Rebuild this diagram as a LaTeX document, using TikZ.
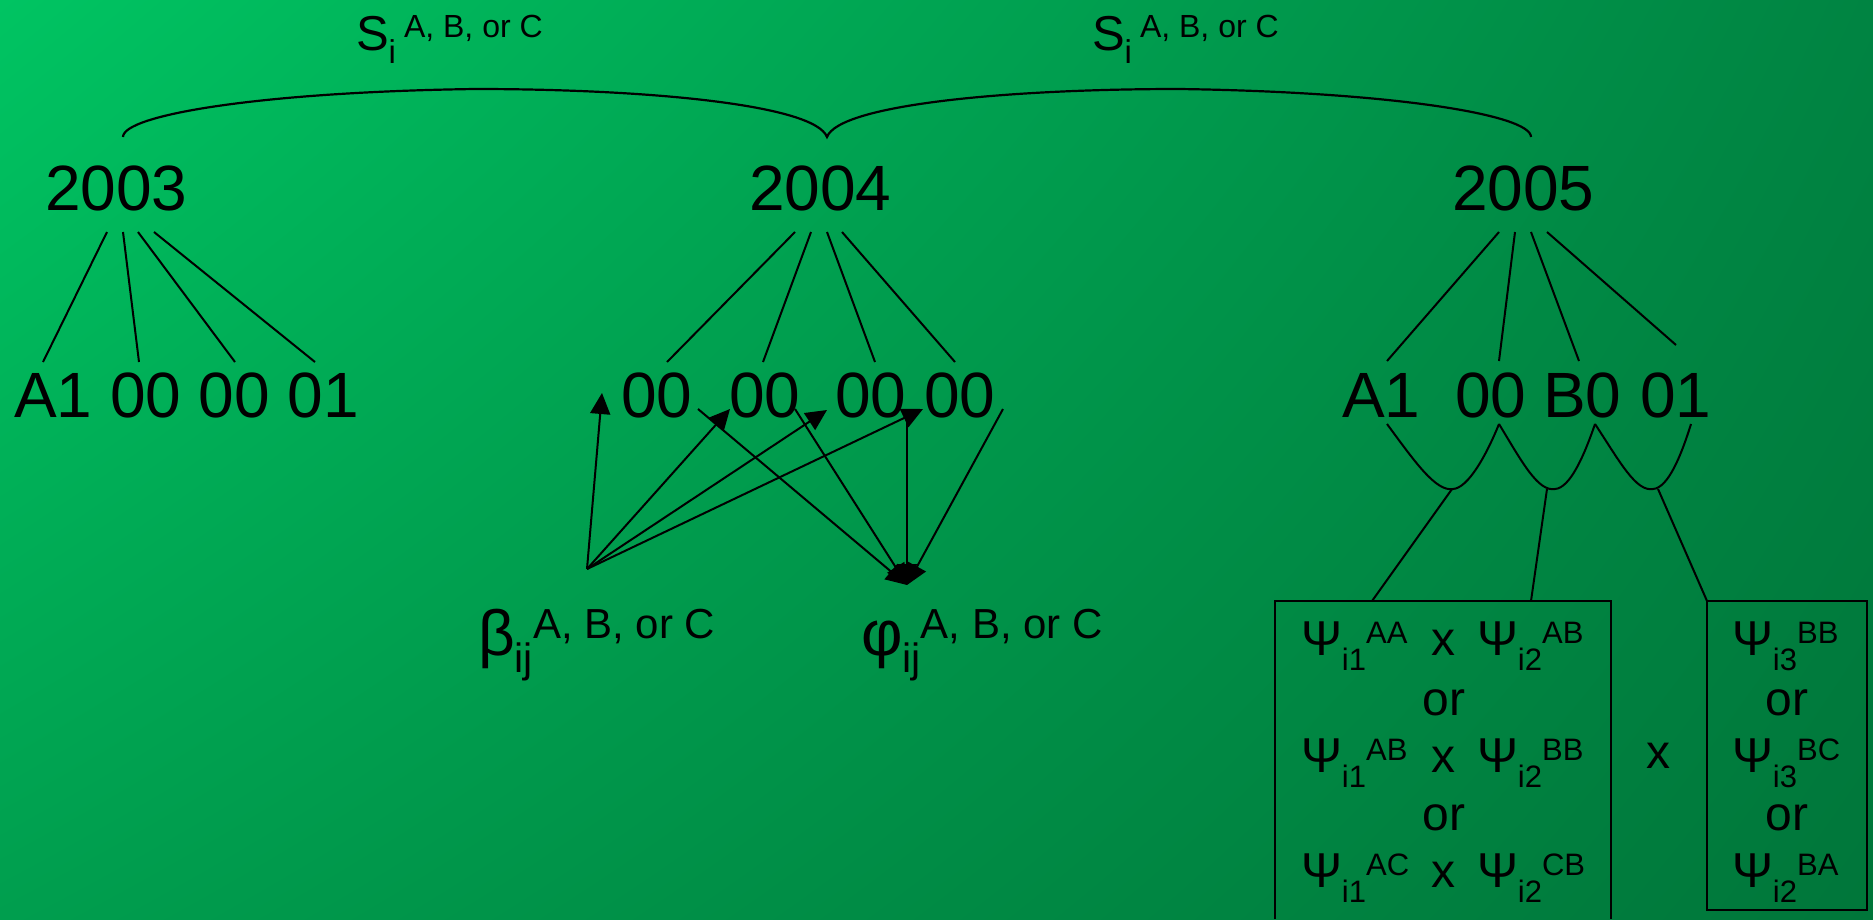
\documentclass[tikz,border=0pt]{standalone}
\usepackage{fontspec}
\setmainfont{Liberation Sans}
\usetikzlibrary{arrows.meta,shadings}
\definecolor{bgUL}{RGB}{0,196,98}
\definecolor{bgUR}{RGB}{0,132,66}
\definecolor{bgLL}{RGB}{0,158,78}
\definecolor{bgLR}{RGB}{0,118,58}
\newcommand\SLabel{{\fontsize{49}{49}\selectfont S}\raisebox{-13pt}{\fontsize{33}{33}\selectfont i}\hspace{8pt}\raisebox{13pt}{\fontsize{32}{32}\selectfont A, B, or C}}
\newcommand\GrLabel[1]{{\fontsize{64}{64}\selectfont #1}\raisebox{-17pt}{\fontsize{41}{41}\selectfont ij}\raisebox{17pt}{\fontsize{42}{42}\selectfont A, B, or C}}
\newcommand\PsiT[2]{{\fontsize{49}{49}\selectfont Ψ}\raisebox{-15pt}{\fontsize{31}{31}\selectfont #1}\raisebox{12pt}{\fontsize{31}{31}\selectfont #2}}
\tikzset{
  txt/.style={inner sep=0pt, outer sep=0pt, anchor=base west},
  big/.style={txt, font=\fontsize{64}{64}\selectfont},
  mid/.style={txt, font=\fontsize{48}{48}\selectfont},
  link/.style={line width=2pt},
  bracel/.style={line width=2.2pt},
  arr/.style={link, -{Triangle[length=21pt,width=20pt]}},
  boxl/.style={line width=2.5pt},
}
\begin{document}
\begin{tikzpicture}[x=1pt,y=-1pt]
\useasboundingbox (0,0) rectangle (1873,919);
\shade[upper left=bgUL, upper right=bgUR, lower left=bgLL, lower right=bgLR] (0,0) rectangle (1873,919);

% labels S_i
\node[txt] (s1) at (356,50) {\SLabel};
\node[txt] (s2) at (1092,50) {\SLabel};

% years
\node[big] (y3) at (45,210) {2003};
\node[big] (y4) at (749,210) {2004};
\node[big] (y5) at (1452,210) {2005};

% rows
\node[big] (r3) at (14,417) {A1 00 00 01};
\node[big] (r4a) at (621,417) {00};
\node[big] (r4b) at (729,417) {00};
\node[big] (r4c) at (835,417) {00};
\node[big] (r4d) at (924,417) {00};
\node[big] (r5a) at (1342,417) {A1};
\node[big] (r5b) at (1455,417) {00};
\node[big] (r5c) at (1543,417) {B0};
\node[big] (r5d) at (1640,417) {01};

% brace over years
\coordinate (bL) at (123,137);
\coordinate (bM) at (827,137);
\coordinate (bR) at (1531,137);
\draw[bracel] (bL) .. controls (123,115) and (260,92) .. (475,89)
  .. controls (650,89) and (815,105) .. (bM)
  .. controls (839,105) and (1004,89) .. (1179,89)
  .. controls (1394,92) and (1531,115) .. (bR);

% 2003 branches
\foreach \i/\tx/\bx/\by in {1/107/43/362, 2/123/139/362, 3/138/235/362, 4/154/315/362}{
  \coordinate (t3\i) at (\tx,232);
  \coordinate (b3\i) at (\bx,\by);
  \draw[link] (t3\i) -- (b3\i);
}
% 2004 branches
\foreach \i/\tx/\bx/\by in {1/795/667/362, 2/811/763/362, 3/827/875/362, 4/842/955/362}{
  \coordinate (t4\i) at (\tx,232);
  \coordinate (b4\i) at (\bx,\by);
  \draw[link] (t4\i) -- (b4\i);
}
% 2005 branches
\foreach \i/\tx/\bx/\by in {1/1499/1387/361, 2/1515/1499/361, 3/1531/1579/361, 4/1547/1676/345}{
  \coordinate (t5\i) at (\tx,232);
  \coordinate (b5\i) at (\bx,\by);
  \draw[link] (t5\i) -- (b5\i);
}

% beta and phi labels
\node[txt] (beta) at (478,655) {\GrLabel{β}};
\node[txt] (phi) at (861,655) {\GrLabel{φ}};

% arrows from beta point
\coordinate (bp) at (587,569);
\coordinate (ta1) at (602,393);
\coordinate (ta2) at (730,409);
\coordinate (ta3) at (827,410);
\coordinate (ta4) at (923,409);
\foreach \k in {1,2,3,4}{ \draw[arr] (bp) -- (ta\k); }

% arrows to phi point
\coordinate (pp) at (907,585);
\coordinate (fa1) at (698,409);
\coordinate (fa2) at (795,409);
\coordinate (fa3) at (907,420);
\coordinate (fa4) at (1003,409);
\foreach \k in {1,2,3,4}{ \draw[arr] (fa\k) -- (pp); }

% brackets under 2005 row
\coordinate (c0) at (1387,424);
\coordinate (c1) at (1499,424);
\coordinate (c2) at (1595,424);
\coordinate (c3) at (1691,424);
\coordinate (v1) at (1453,489);
\coordinate (v2) at (1555,489);
\coordinate (v3) at (1653,489);
\draw[link] (c0) .. controls (1415,462) and (1436,492) .. (v1) .. controls (1468,488) and (1486,456) .. (c1);
\draw[link] (c1) .. controls (1522,462) and (1538,492) .. (v2) .. controls (1570,488) and (1584,456) .. (c2);
\draw[link] (c2) .. controls (1620,462) and (1636,492) .. (v3) .. controls (1668,488) and (1681,456) .. (c3);

% boxes
\coordinate (k1a) at (1275,919);
\coordinate (k1b) at (1275,601);
\coordinate (k1c) at (1611,601);
\coordinate (k1d) at (1611,919);
\draw[boxl] (k1a) -- (k1b) -- (k1c) -- (k1d);
\coordinate (k2a) at (1707,601);
\coordinate (k2b) at (1867,910);
\draw[boxl] (k2a) rectangle (k2b);

% connectors from brackets to boxes
\coordinate (e1) at (1452,489);
\coordinate (e2) at (1547,489);
\coordinate (e3) at (1658,489);
\coordinate (f1) at (1372,601);
\coordinate (f2) at (1531,601);
\coordinate (f3) at (1707,601);
\draw[link] (e1) -- (f1);
\draw[link] (e2) -- (f2);
\draw[link] (e3) -- (f3);

% box 1 content
\node[txt] (p11) at (1301,655) {\PsiT{i1}{AA}};
\node[mid] (x11) at (1431,655) {x};
\node[txt] (p12) at (1477,655) {\PsiT{i2}{AB}};
\node[mid, anchor=base] (o11) at (1444,715) {or};
\node[txt] (p21) at (1301,772) {\PsiT{i1}{AB}};
\node[mid] (x21) at (1431,772) {x};
\node[txt] (p22) at (1477,772) {\PsiT{i2}{BB}};
\node[mid, anchor=base] (o12) at (1444,830) {or};
\node[txt] (p31) at (1301,887) {\PsiT{i1}{AC}};
\node[mid] (x31) at (1431,887) {x};
\node[txt] (p32) at (1477,887) {\PsiT{i2}{CB}};

% middle x
\node[mid] (xm) at (1646,768) {x};

% box 2 content
\node[txt] (q1) at (1732,655) {\PsiT{i3}{BB}};
\node[mid, anchor=base] (o21) at (1787,715) {or};
\node[txt] (q2) at (1732,772) {\PsiT{i3}{BC}};
\node[mid, anchor=base] (o22) at (1787,830) {or};
\node[txt] (q3) at (1732,887) {\PsiT{i2}{BA}};
\end{tikzpicture}
\end{document}
